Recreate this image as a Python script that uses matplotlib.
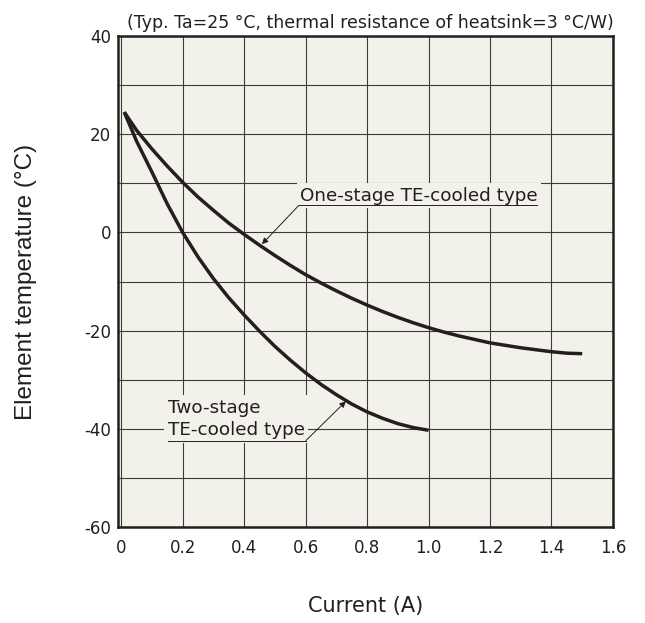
import matplotlib
matplotlib.use("Agg")
import matplotlib.pyplot as plt
import numpy as np

# ==========================================
# data
# ==========================================
one_stage_x = [0.01, 0.05, 0.1, 0.15, 0.2, 0.25, 0.3, 0.35, 0.4, 0.45, 0.5,
               0.55, 0.6, 0.65, 0.7, 0.75, 0.8, 0.85, 0.9, 0.95, 1.0, 1.05,
               1.1, 1.15, 1.2, 1.25, 1.3, 1.35, 1.4, 1.45, 1.5]
one_stage_y = [24.5, 20.8, 17.0, 13.5, 10.2, 7.2, 4.5, 1.9, -0.4, -2.6, -4.7,
               -6.7, -8.6, -10.3, -11.9, -13.4, -14.8, -16.1, -17.3, -18.4,
               -19.4, -20.3, -21.1, -21.8, -22.5, -23.0, -23.5, -23.9, -24.3,
               -24.6, -24.7]

two_stage_x = [0.01, 0.05, 0.1, 0.15, 0.2, 0.25, 0.3, 0.35, 0.4, 0.45, 0.5,
               0.55, 0.6, 0.65, 0.7, 0.75, 0.8, 0.85, 0.9, 0.95, 1.0]
two_stage_y = [24.5, 18.6, 12.3, 5.8, 0.0, -5.0, -9.4, -13.3, -16.8, -20.1,
               -23.2, -26.0, -28.6, -30.95, -33.05, -34.95, -36.55, -37.85,
               -38.95, -39.75, -40.3]

x_ticks = [0, 0.2, 0.4, 0.6, 0.8, 1.0, 1.2, 1.4, 1.6]
x_tick_labels = ["0", "0.2", "0.4", "0.6", "0.8", "1.0", "1.2", "1.4", "1.6"]
y_ticks = [-60, -40, -20, 0, 20, 40]

title_text = "(Typ. Ta=25 °C, thermal resistance of heatsink=3 °C/W)"
label_one = "One-stage TE-cooled type"
label_two = "Two-stage\nTE-cooled type"

# ==========================================
# style
# ==========================================
bg = "#f2f1ea"
ink = "#231f20"
grid_col = "#3c3b3a"

plt.rcParams["font.family"] = ["DejaVu Sans"]
plt.rcParams["axes.unicode_minus"] = False

fig = plt.figure(figsize=(6.45, 6.23), dpi=100)
ax = fig.add_axes([0.1829, 0.1541, 0.7674, 0.7881])
ax.set_facecolor(bg)

ax.set_xlim(-0.0104, 1.6)
ax.set_ylim(-60, 40)

# grid
ax.set_xticks(x_ticks)
ax.set_xticklabels(x_tick_labels)
ax.set_yticks(y_ticks)
ax.set_xticks(np.arange(0, 1.61, 0.2), minor=True)
ax.set_yticks(np.arange(-60, 41, 10), minor=True)
ax.grid(True, which="both", color=grid_col, linewidth=0.8)
ax.set_axisbelow(True)

ax.tick_params(axis="both", which="both", length=0, labelsize=12,
               colors=ink, pad=5)
ax.tick_params(axis="x", pad=9)

for s in ax.spines.values():
    s.set_linewidth(1.8)
    s.set_color(ink)
    s.set_zorder(5)

# curves
ax.plot(one_stage_x, one_stage_y, color=ink, linewidth=2.5,
        solid_capstyle="butt", solid_joinstyle="round", zorder=3)
ax.plot(two_stage_x, two_stage_y, color=ink, linewidth=2.5,
        solid_capstyle="butt", solid_joinstyle="round", zorder=3)

# annotation: one-stage
box = dict(facecolor=bg, edgecolor="none", pad=2.5)
ax.text(0.582, 6.4, label_one, fontsize=13.2, color=ink, ha="left",
        va="baseline", bbox=box, zorder=4)
ax.plot([0.578, 1.352], [5.5, 5.5], color=ink, linewidth=0.7, zorder=4)
ax.annotate("", xy=(0.458, -2.4), xytext=(0.578, 5.5),
            arrowprops=dict(arrowstyle="-|>", color=ink, lw=0.7,
                            mutation_scale=9, shrinkA=0, shrinkB=0),
            zorder=4)

# annotation: two-stage
ax.text(0.152, -41.3, label_two, fontsize=13.2, color=ink, ha="left",
        va="baseline", linespacing=1.3, bbox=box, zorder=4)
ax.plot([0.152, 0.601], [-42.4, -42.4], color=ink, linewidth=0.7, zorder=4)
ax.annotate("", xy=(0.731, -34.4), xytext=(0.601, -42.4),
            arrowprops=dict(arrowstyle="-|>", color=ink, lw=0.7,
                            mutation_scale=9, shrinkA=0, shrinkB=0),
            zorder=4)

# labels
ax.set_title(title_text, fontsize=12.5, color=ink, pad=6, x=0.51)
ax.set_xlabel("Current (A)", fontsize=15, color=ink, labelpad=28)
ax.set_ylabel("Element temperature (°C)", fontsize=17.5,
              family=["Liberation Sans", "DejaVu Sans"], color=ink,
              labelpad=34)

fig.savefig("out.png", dpi=100, facecolor="white")
